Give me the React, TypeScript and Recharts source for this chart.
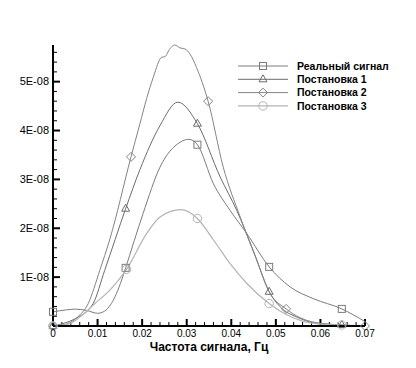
import React from "react";
import { LineChart, Line, XAxis, YAxis, ReferenceLine } from "recharts";

// значения по оси Y в единицах 1E-08
const freqReal = [0, 0.003, 0.005, 0.0075, 0.01, 0.0115, 0.0131, 0.0154, 0.0163, 0.0202, 0.024, 0.0285, 0.0305, 0.0324, 0.036, 0.0397, 0.0435, 0.0485, 0.0532, 0.0584, 0.0648, 0.07];
const real = [0.29, 0.33, 0.345, 0.32, 0.26, 0.3, 0.46, 0.94, 1.19, 2.3, 3.25, 3.76, 3.82, 3.71, 2.91, 2.37, 1.89, 1.21, 0.8, 0.56, 0.35, 0.09];

const freqP1 = [0, 0.0022, 0.005, 0.009, 0.0116, 0.0163, 0.0195, 0.024, 0.028, 0.0324, 0.0375, 0.0412, 0.0449, 0.0485, 0.051, 0.0548, 0.0584, 0.0648, 0.07];
const p1 = [0, 0.05, 0.15, 0.46, 1.14, 2.4, 3.2, 4.1, 4.58, 4.14, 3.05, 2.37, 1.55, 0.7, 0.39, 0.18, 0.07, 0.02, 0];

const freqP2 = [0, 0.003, 0.0055, 0.0079, 0.0105, 0.0127, 0.0175, 0.0195, 0.021, 0.0225, 0.0244, 0.0251, 0.0262, 0.0273, 0.0285, 0.0296, 0.0307, 0.0322, 0.0348, 0.0382, 0.042, 0.0457, 0.0487, 0.0523, 0.0584, 0.0648, 0.07];
const p2 = [0, 0.04, 0.18, 0.46, 1.14, 1.76, 3.46, 4.14, 4.65, 5.09, 5.5, 5.51, 5.67, 5.75, 5.69, 5.67, 5.57, 5.29, 4.6, 3.25, 2.23, 1.35, 0.67, 0.35, 0.08, 0.02, 0];

const freqP3 = [0, 0.0038, 0.0065, 0.0094, 0.0127, 0.0165, 0.021, 0.024, 0.0287, 0.0324, 0.036, 0.0397, 0.0435, 0.0485, 0.052, 0.056, 0.06, 0.0648, 0.07];
const p3 = [0, 0.05, 0.22, 0.46, 0.73, 1.16, 1.89, 2.23, 2.38, 2.2, 1.76, 1.28, 0.87, 0.46, 0.25, 0.1, 0.04, 0.02, 0.01];

// где стоят маркеры
const markReal = [0, 0.0163, 0.0324, 0.0485, 0.0648];
const markP1 = [0, 0.0163, 0.0324, 0.0485, 0.0648];
const markP2 = [0, 0.0175, 0.0348, 0.0523, 0.07];
const markP3 = [0, 0.0165, 0.0324, 0.0485, 0.0648];

const xMajor = [0, 0.01, 0.02, 0.03, 0.04, 0.05, 0.06, 0.07];
const xLabels = ["0", "0.01", "0.02", "0.03", "0.04", "0.05", "0.06", "0.07"];
const yMajor = [1, 2, 3, 4, 5];
const yLabels = ["1E-08", "2E-08", "3E-08", "4E-08", "5E-08"];

const xMinor = Array.from({ length: 36 }, (_, i) => i).filter((i) => i % 5 !== 0).map((i) => i * 0.002);
const yMinor = Array.from({ length: 29 }, (_, i) => i).filter((i) => i % 5 !== 0).map((i) => i * 0.2);

// длина засечек в единицах осей (7px и 4px при области 312x281)
const X_MAX = 0.07;
const Y_MAX = 5.75;
const xTickLen = (px: number) => (X_MAX * px) / 312;
const yTickLen = (px: number) => (Y_MAX * px) / 281;

const series = [
  { name: "Реальный сигнал", freq: freqReal, vals: real, marks: markReal, shape: "square", color: "#7c7c7c", width: 1 },
  { name: "Постановка 1", freq: freqP1, vals: p1, marks: markP1, shape: "triangle", color: "#6c6c6c", width: 1 },
  { name: "Постановка 2", freq: freqP2, vals: p2, marks: markP2, shape: "diamond", color: "#848484", width: 1 },
  { name: "Постановка 3", freq: freqP3, vals: p3, marks: markP3, shape: "circle", color: "#b4b4b4", width: 1.2 },
];

const FONT = "'Liberation Sans', Arial, sans-serif";

function Marker({ shape, cx, cy, color }: { shape: string; cx: number; cy: number; color: string }) {
  const p = { fill: "none", stroke: color, strokeWidth: 1 };
  if (shape === "square") return <rect x={cx - 3.5} y={cy - 3.5} width={7} height={7} {...p} />;
  if (shape === "triangle") return <polygon points={`${cx},${cy - 4.5} ${cx + 4},${cy + 2.5} ${cx - 4},${cy + 2.5}`} {...p} />;
  if (shape === "diamond") return <polygon points={`${cx},${cy - 4.5} ${cx + 4.5},${cy} ${cx},${cy + 4.5} ${cx - 4.5},${cy}`} {...p} />;
  return <circle cx={cx} cy={cy} r={4.2} {...p} />;
}

function XTick(props: any) {
  const { x, y, payload } = props;
  const idx = xMajor.findIndex((v) => Math.abs(v - payload.value) < 1e-9);
  if (idx < 0) return <g />;
  return (
    <text x={x} y={y + 10.5} textAnchor="middle" fontSize={10} fontFamily={FONT} fill="#000">
      {xLabels[idx]}
    </text>
  );
}

function YTick(props: any) {
  const { x, y, payload } = props;
  const idx = yMajor.findIndex((v) => Math.abs(v - payload.value) < 1e-9);
  if (idx < 0) return <g />;
  return (
    <text x={x - 4} y={y + 3.8} textAnchor="end" fontSize={11} fontFamily={FONT} fill="#000">
      {yLabels[idx]}
    </text>
  );
}

export default function App() {
  const legendY = [66, 79.3, 92.6, 105.9];
  return (
    <div style={{ position: "absolute", left: 0, top: 0, width: 416, height: 368, background: "#fff" }}>
      <LineChart width={416} height={368} margin={{ top: 45, right: 51, left: 0, bottom: 0 }}>
        <XAxis
          dataKey="f"
          type="number"
          domain={[0, X_MAX]}
          ticks={xMajor}
          interval={0}
          height={42}
          tickSize={0}
          tickMargin={0}
          tickLine={false}
          tick={(p: any) => <XTick {...p} />}
          axisLine={{ stroke: "#000", strokeWidth: 2 }}
          label={{ value: "Частота сигнала, Гц", position: "insideBottom", offset: 17, fontSize: 12, fontWeight: "bold", fontFamily: FONT, fill: "#000" }}
        />
        <YAxis
          type="number"
          domain={[0, Y_MAX]}
          ticks={yMajor}
          interval={0}
          width={53}
          tickSize={0}
          tickMargin={0}
          tickLine={false}
          tick={(p: any) => <YTick {...p} />}
          axisLine={{ stroke: "#000", strokeWidth: 2 }}
        />
        {/* засечки внутрь */}
        {xMajor.map((v) => (
          <ReferenceLine key={`xM${v}`} segment={[{ x: v, y: 0 }, { x: v, y: yTickLen(7) }]} stroke="#000" strokeWidth={2} ifOverflow="visible" />
        ))}
        {xMinor.map((v) => (
          <ReferenceLine key={`xm${v}`} segment={[{ x: v, y: 0 }, { x: v, y: yTickLen(4) }]} stroke="#000" strokeWidth={1} ifOverflow="visible" />
        ))}
        {yMajor.map((v) => (
          <ReferenceLine key={`yM${v}`} segment={[{ x: 0, y: v }, { x: xTickLen(7), y: v }]} stroke="#000" strokeWidth={2} ifOverflow="visible" />
        ))}
        {yMinor.map((v) => (
          <ReferenceLine key={`ym${v}`} segment={[{ x: 0, y: v }, { x: xTickLen(4), y: v }]} stroke="#000" strokeWidth={1} ifOverflow="visible" />
        ))}
        {series.map((s) => (
          <Line
            key={s.name}
            name={s.name}
            data={s.freq.map((f, i) => ({ f, v: s.vals[i] }))}
            dataKey="v"
            type="monotone"
            stroke={s.color}
            strokeWidth={s.width}
            isAnimationActive={false}
            activeDot={false}
            dot={(d: any) =>
              s.marks.some((m) => Math.abs(m - d.payload.f) < 1e-9) ? (
                <Marker key={`${s.name}-${d.index}`} shape={s.shape} cx={d.cx} cy={d.cy} color={s.color} />
              ) : (
                <g key={`${s.name}-${d.index}`} />
              )
            }
          />
        ))}
      </LineChart>
      <svg width={416} height={368} style={{ position: "absolute", left: 0, top: 0, pointerEvents: "none" }}>
        {series.map((s, i) => (
          <g key={s.name}>
            <line x1={238} y1={legendY[i]} x2={288} y2={legendY[i]} stroke={s.color} strokeWidth={s.width} />
            <Marker shape={s.shape} cx={263} cy={legendY[i]} color={s.color} />
            <text x={297} y={legendY[i] + 3.7} fontSize={10.5} fontWeight="bold" fontFamily={FONT} fill="#000">
              {s.name}
            </text>
          </g>
        ))}
      </svg>
    </div>
  );
}
